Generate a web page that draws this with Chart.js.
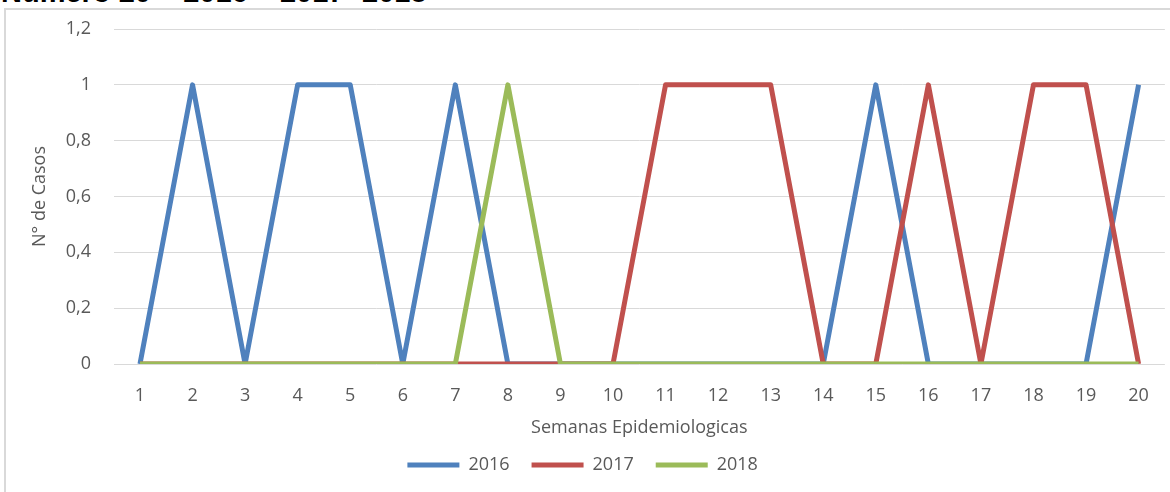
<!DOCTYPE html>
<html>
<head>
<meta charset="utf-8">
<script src="https://cdn.jsdelivr.net/npm/chart.js@4.4.1/dist/chart.umd.min.js"></script>
<style>
  html, body { margin: 0; padding: 0; background: #ffffff; overflow: hidden; }
  body { width: 1170px; height: 492px; position: relative; }
  #frame { position: absolute; left: 4px; top: 8px; width: 1200px; height: 520px; border: 2px solid #d9d9d9; box-sizing: border-box; }
  #ttl { position: absolute; left: 1px; top: -25px; font-family: "Liberation Sans", Arial, sans-serif; font-weight: bold; font-size: 29px; line-height: 34px; color: #000; white-space: nowrap; }
  #c { position: absolute; left: 0; top: 0; }
</style>
</head>
<body>
<div id="ttl">Número 20 – 2016 – 2017- 2018</div>
<div id="frame"></div>
<canvas id="c" width="1170" height="492"></canvas>
<script>
const weeks = ['1','2','3','4','5','6','7','8','9','10','11','12','13','14','15','16','17','18','19','20'];
const seriesNames = ['2016', '2017', '2018'];
const cases2016 = [0,1,0,1,1,0,1,0,0,0,0,0,0,0,1,0,0,0,0,1];
const cases2017 = [0,0,0,0,0,0,0,0,0,0,1,1,1,0,0,1,0,1,1,0];
const cases2018 = [0,0,0,0,0,0,0,1,0,0,0,0,0,0,0,0,0,0,0,0];
const yTicks = [0, 0.2, 0.4, 0.6, 0.8, 1, 1.2];
const yTitle = 'N° de Casos';
const xTitle = 'Semanas Epidemiologicas';

const colors = ['#4f81bd', '#c0504d', '#9bbb59'];
const values = [cases2016, cases2017, cases2018];
const FONT = '"Open Sans", "DejaVu Sans", sans-serif';
const GREY = '#595959';

const legendTweak = {
  id: 'legendTweak',
  beforeInit(chart) {
    const lg = chart.legend;
    if (lg) {
      const origFit = lg.fit;
      lg.fit = function () { origFit.call(this); this.height = 40; };
      const origDraw = lg.draw;
      lg.draw = function () {
        const ctx = this.ctx;
        ctx.save();
        ctx.translate(0, -6);
        origDraw.call(this);
        ctx.restore();
      };
    }
  }
};

new Chart(document.getElementById('c'), {
  type: 'line',
  data: {
    labels: weeks,
    datasets: seriesNames.map((n, i) => ({
      label: n,
      data: values[i],
      borderColor: colors[i],
      backgroundColor: colors[i],
      borderWidth: 5,
      borderJoinStyle: 'round',
      borderCapStyle: 'butt',
      pointRadius: 0,
      pointHoverRadius: 0,
      tension: 0,
      fill: false,
      order: 3 - i
    }))
  },
  options: {
    responsive: false,
    devicePixelRatio: 1,
    animation: false,
    events: [],
    layout: { padding: { top: 29, right: 4.7, left: 0, bottom: 12 } },
    scales: {
      x: {
        type: 'category',
        offset: true,
        grid: { display: false, drawTicks: false },
        border: { display: false },
        ticks: { color: GREY, font: { family: FONT, size: 18 }, padding: 21, maxRotation: 0, autoSkip: false },
        title: { display: true, text: xTitle, color: GREY, font: { family: FONT, size: 18 }, padding: { top: 4, bottom: 1 } },
        afterFit(s) { s.height = 76; }
      },
      y: {
        min: 0, max: 1.2,
        afterBuildTicks(s) { s.ticks = yTicks.map(v => ({ value: v })); },
        grid: { color: '#d9d9d9', lineWidth: 1, drawTicks: false },
        border: { display: false },
        ticks: {
          color: GREY, font: { family: FONT, size: 18 }, padding: 22.7,
          callback: v => String(Math.round(v * 10) / 10).replace('.', ',')
        },
        title: { display: true, text: yTitle, color: GREY, font: { family: FONT, size: 18 }, padding: { top: 29, bottom: 0 } },
        afterFit(s) { s.width = 113.7; s.paddingTop = 0; s.paddingBottom = 0; }
      }
    },
    plugins: {
      legend: {
        position: 'bottom',
        labels: {
          color: GREY, font: { family: FONT, size: 18 },
          boxWidth: 52, boxHeight: 5, padding: 22,
          sort: (a, b) => a.datasetIndex - b.datasetIndex,
          generateLabels(chart) {
            const items = Chart.defaults.plugins.legend.labels.generateLabels(chart);
            items.forEach(it => { it.lineWidth = 0; });
            return items;
          }
        }
      },
      tooltip: { enabled: false },
      title: { display: false }
    }
  },
  plugins: [legendTweak]
});
</script>
</body>
</html>
